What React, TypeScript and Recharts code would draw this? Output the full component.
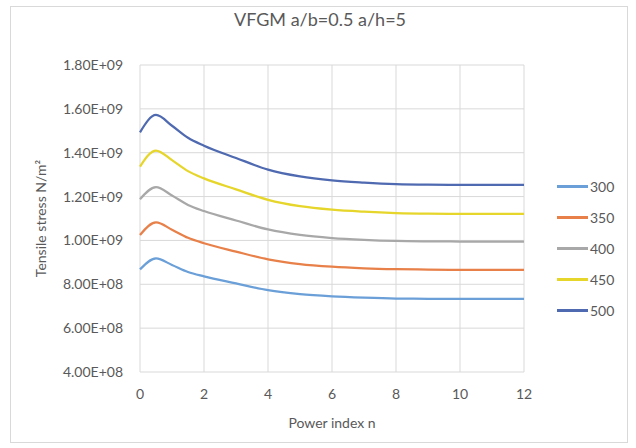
import React from 'react';
import { LineChart, Line, XAxis, YAxis, CartesianGrid, Legend } from 'recharts';

const nValues = [0, 0.5, 1, 1.5, 2, 3, 4, 5, 6, 7, 8, 9, 10, 11, 12];
const s300 = [0.868, 0.918, 0.888, 0.856, 0.836, 0.804, 0.773, 0.755, 0.745, 0.739, 0.735, 0.734, 0.733, 0.733, 0.733];
const s350 = [1.025, 1.082, 1.049, 1.012, 0.987, 0.949, 0.914, 0.892, 0.880, 0.873, 0.869, 0.867, 0.866, 0.866, 0.866];
const s400 = [1.188, 1.243, 1.205, 1.162, 1.134, 1.091, 1.050, 1.025, 1.011, 1.003, 0.998, 0.996, 0.995, 0.995, 0.995];
const s450 = [1.337, 1.410, 1.366, 1.316, 1.283, 1.233, 1.185, 1.156, 1.140, 1.131, 1.125, 1.122, 1.121, 1.121, 1.121];
const s500 = [1.493, 1.572, 1.523, 1.468, 1.432, 1.376, 1.323, 1.292, 1.274, 1.264, 1.257, 1.254, 1.253, 1.253, 1.253];

const seriesNames = ['300', '350', '400', '450', '500'];
const seriesValues = [s300, s350, s400, s450, s500];
const seriesColors = ['#6A9FD8', '#E8804A', '#A8A8A8', '#E6D52A', '#4F6AB0'];

const yTicks = [4e8, 6e8, 8e8, 1e9, 1.2e9, 1.4e9, 1.6e9, 1.8e9];
const xTicks = [0, 2, 4, 6, 8, 10, 12];

const titleText = 'VFGM a/b=0.5 a/h=5';
const xTitle = 'Power index n';
const yTitle = 'Tensile stress N/m\u00B2';

const data = nValues.map((n, i) => {
  const row: Record<string, number> = { n };
  seriesNames.forEach((name, k) => {
    row[name] = seriesValues[k][i] * 1e9;
  });
  return row;
});

const fmt = (v: number) => {
  const [m, e] = v.toExponential(2).split('e');
  const sign = e[0];
  const d = e.slice(1).padStart(2, '0');
  return `${m}E${sign}${d}`;
};

const TEXT = '#595959';

const LegendContent = (props: any) => {
  const payload = props.payload || [];
  return (
    <div>
      {payload.map((p: any) => (
        <div key={p.value} style={{ height: 31, display: 'flex', alignItems: 'center' }}>
          <div style={{ width: 33 }} />
          <div style={{ width: 31, height: 2.5, background: p.color }} />
          <div style={{ marginLeft: 2, fontSize: 14, color: TEXT }}>{p.value}</div>
        </div>
      ))}
    </div>
  );
};

const YLabel = (props: any) => {
  const vb = props.viewBox || { x: 0, y: 0, width: 0, height: 0 };
  const cx = vb.x + 20;
  const cy = vb.y + vb.height / 2;
  return (
    <text x={cx} y={cy} transform={`rotate(-90 ${cx} ${cy})`} textAnchor="middle" dominantBaseline="central" fill={TEXT} fontSize={14}>
      {yTitle}
    </text>
  );
};

const XLabel = (props: any) => {
  const vb = props.viewBox || { x: 0, y: 0, width: 0, height: 0 };
  const cx = vb.x + vb.width / 2;
  const cy = vb.y + 50;
  return (
    <text x={cx} y={cy} textAnchor="middle" dominantBaseline="central" fill={TEXT} fontSize={14}>
      {xTitle}
    </text>
  );
};

export default function App() {
  return (
    <div style={{ position: 'absolute', left: 0, top: 0, width: 636, height: 448, background: '#fff', fontFamily: 'Lato' }}>
      <div style={{ position: 'absolute', left: 10, top: 6, width: 616, height: 435, border: '1px solid #d9d9d9' }} />
      <div style={{ position: 'absolute', left: 0, top: 9, width: 640, textAlign: 'center', fontSize: 18, lineHeight: '20px', color: TEXT }}>
        {titleText}
      </div>
      <div style={{ position: 'absolute', left: 0, top: 0 }}>
        <LineChart width={636} height={448} data={data} margin={{ top: 65, right: 112, bottom: 0, left: 20 }}>
          <CartesianGrid stroke="#d9d9d9" strokeWidth={1} vertical={true} horizontal={true} />
          <XAxis
            dataKey="n"
            type="number"
            domain={[0, 12]}
            ticks={xTicks}
            height={76}
            axisLine={false}
            tickLine={false}
            tickSize={6}
            tickMargin={11}
            tick={{ fill: TEXT, fontSize: 14 }}
            label={<XLabel />}
          />
          <YAxis
            type="number"
            domain={[4e8, 1.8e9]}
            ticks={yTicks}
            width={120}
            axisLine={false}
            tickLine={false}
            tickSize={6}
            tickMargin={11}
            tickFormatter={fmt}
            tick={{ fill: TEXT, fontSize: 14 }}
            label={<YLabel />}
          />
          <Legend
            layout="vertical"
            align="center"
            verticalAlign="middle"
            width={112}
            wrapperStyle={{ left: 524, top: 171 }}
            content={<LegendContent />}
          />
          {seriesNames.map((name, k) => (
            <Line
              key={name}
              type="monotone"
              dataKey={name}
              name={name}
              stroke={seriesColors[k]}
              strokeWidth={2.25}
              dot={false}
              isAnimationActive={false}
            />
          ))}
        </LineChart>
      </div>
    </div>
  );
}
